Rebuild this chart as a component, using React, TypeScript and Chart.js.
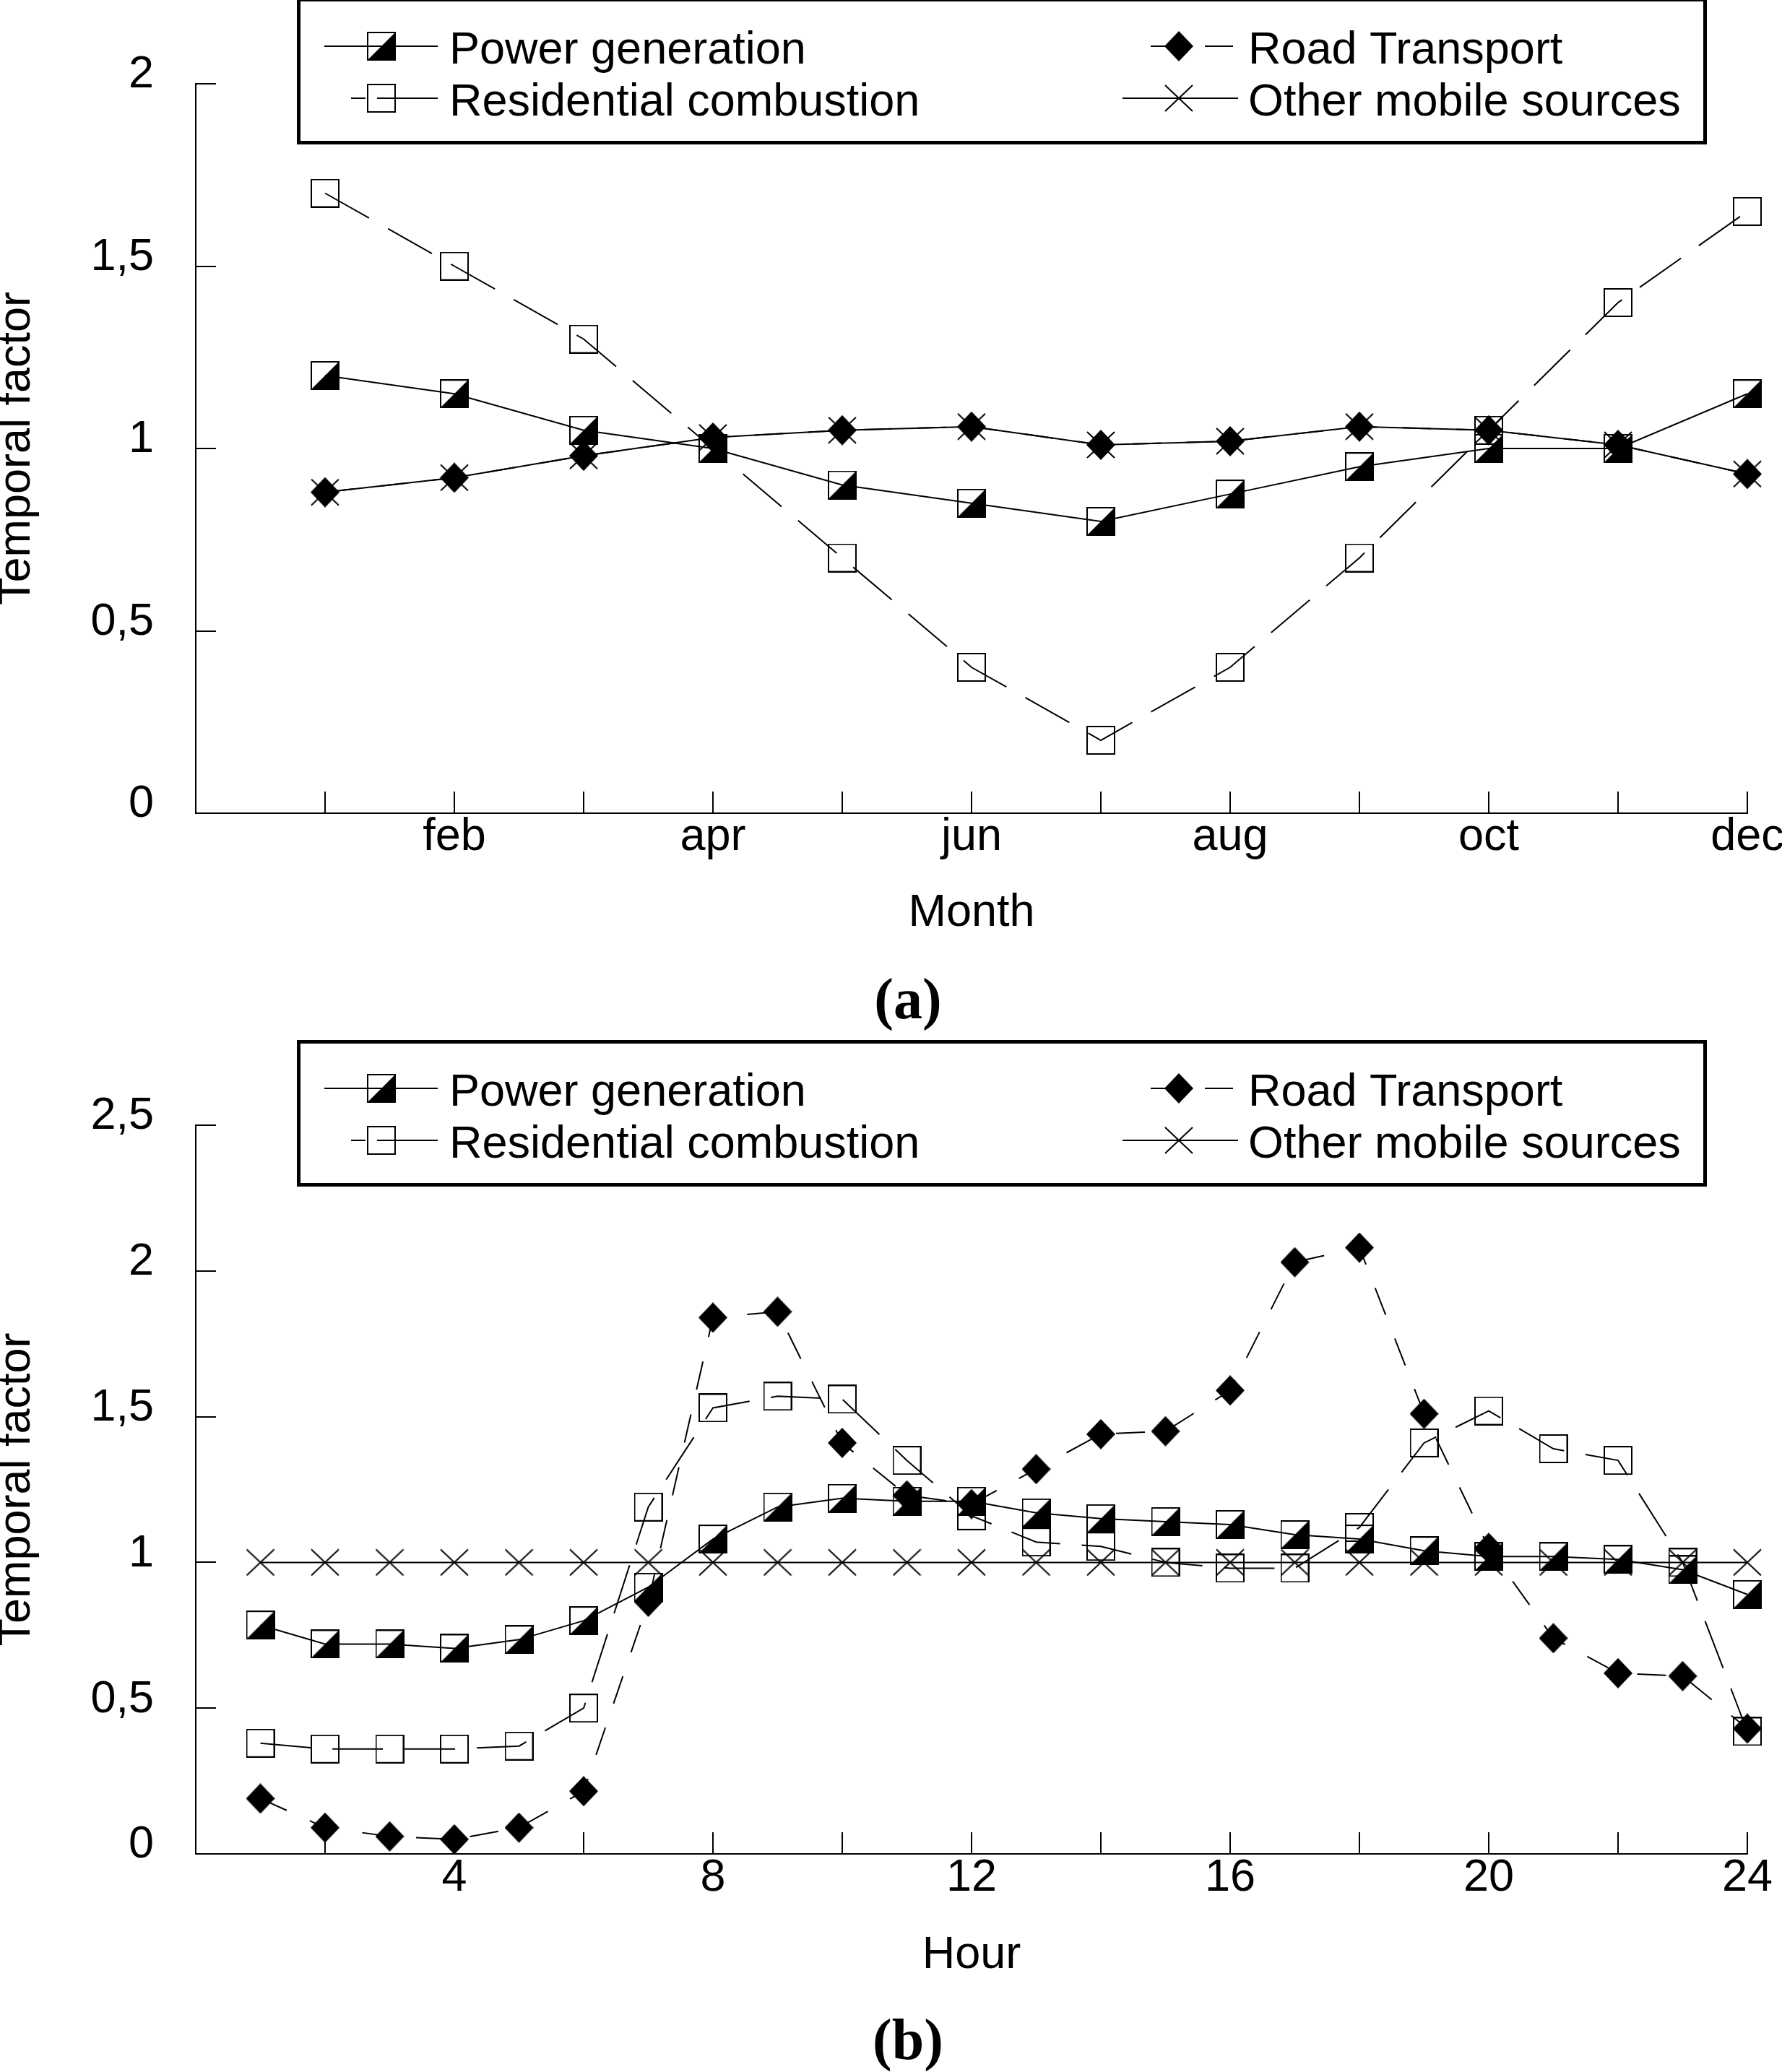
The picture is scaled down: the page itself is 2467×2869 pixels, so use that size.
import { useEffect, useRef } from 'react';
import { Chart, registerables } from 'chart.js';

Chart.register(...registerables);

const SANS = '"Liberation Sans", Arial, sans-serif';
const SERIF = '"Liberation Serif", "Times New Roman", serif';

// ---------- Panel (a): monthly temporal factors ----------
const months = [1, 2, 3, 4, 5, 6, 7, 8, 9, 10, 11, 12];
const monthNames = ['jan', 'feb', 'mar', 'apr', 'may', 'jun', 'jul', 'aug', 'sep', 'oct', 'nov', 'dec'];
const monthlyPower = [1.2, 1.15, 1.05, 1.0, 0.9, 0.85, 0.8, 0.875, 0.95, 1.0, 1.0, 1.15];
const monthlyResidential = [1.7, 1.5, 1.3, 1.0, 0.7, 0.4, 0.2, 0.4, 0.7, 1.05, 1.4, 1.65];
const monthlyRoad = [0.88, 0.92, 0.98, 1.03, 1.05, 1.06, 1.01, 1.02, 1.06, 1.05, 1.01, 0.93];
const monthlyOther = [0.88, 0.92, 0.98, 1.03, 1.05, 1.06, 1.01, 1.02, 1.06, 1.05, 1.01, 0.93];

// ---------- Panel (b): hourly temporal factors ----------
const hours = [1, 2, 3, 4, 5, 6, 7, 8, 9, 10, 11, 12, 13, 14, 15, 16, 17, 18, 19, 20, 21, 22, 23, 24];
const hourlyPower = [0.785, 0.72, 0.72, 0.705, 0.735, 0.8, 0.915, 1.08, 1.19, 1.22, 1.21, 1.21, 1.17, 1.15, 1.14, 1.13, 1.095, 1.08, 1.04, 1.02, 1.02, 1.01, 0.975, 0.89];
const hourlyResidential = [0.38, 0.36, 0.36, 0.36, 0.37, 0.5, 1.19, 1.53, 1.57, 1.56, 1.35, 1.16, 1.07, 1.055, 1.0, 0.98, 0.98, 1.12, 1.41, 1.52, 1.39, 1.35, 1.0, 0.42];
const hourlyRoad = [0.19, 0.09, 0.06, 0.05, 0.09, 0.215, 0.865, 1.84, 1.86, 1.41, 1.23, 1.2, 1.32, 1.44, 1.45, 1.59, 2.03, 2.08, 1.51, 1.05, 0.74, 0.62, 0.61, 0.43];
const hourlyOther = [1, 1, 1, 1, 1, 1, 1, 1, 1, 1, 1, 1, 1, 1, 1, 1, 1, 1, 1, 1, 1, 1, 1, 1];
const hourTickLabels = [4, 8, 12, 16, 20, 24];

const seriesNames = ['Power generation', 'Residential combustion', 'Road Transport', 'Other mobile sources'];
const yAxisTitle = 'Temporal factor';

type MarkerKind = 'half' | 'square' | 'diamond' | 'cross';

function makeMarker(kind: MarkerKind): HTMLCanvasElement {
  const c = document.createElement('canvas');
  const ctx = c.getContext('2d')!;
  if (kind === 'half' || kind === 'square') {
    c.width = 40; c.height = 40;
    ctx.strokeStyle = '#000';
    ctx.lineWidth = 2;
    if (kind === 'half') {
      ctx.fillStyle = '#000';
      ctx.beginPath();
      ctx.moveTo(1, 39); ctx.lineTo(39, 39); ctx.lineTo(39, 1); ctx.closePath();
      ctx.fill();
    }
    ctx.strokeRect(1, 1, 38, 38);
  } else if (kind === 'diamond') {
    c.width = 40; c.height = 42;
    ctx.fillStyle = '#000';
    ctx.beginPath();
    ctx.moveTo(20, 0); ctx.lineTo(40, 21); ctx.lineTo(20, 42); ctx.lineTo(0, 21); ctx.closePath();
    ctx.fill();
  } else {
    c.width = 40; c.height = 38;
    ctx.strokeStyle = '#000';
    ctx.lineWidth = 2;
    ctx.beginPath();
    ctx.moveTo(1, 1); ctx.lineTo(39, 37);
    ctx.moveTo(39, 1); ctx.lineTo(1, 37);
    ctx.stroke();
  }
  return c;
}

type PanelSpec = {
  top: number;
  height: number;
  areaTop: number;
  areaBottom: number;
  xMax: number;
  xStep: number;
  xLabel: (v: number) => string;
  yMax: number;
  xTitle: string;
  titleGap: number;
  legendTop: number;
  caption: string;
  captionBaseline: number;
  xs: number[];
  series: number[][];
};

const CANVAS_W = 2475;

const panelA: PanelSpec = {
  top: 0,
  height: 1430,
  areaTop: 116,
  areaBottom: 1126,
  xMax: 12,
  xStep: 1,
  xLabel: (v) => (v > 0 && v % 2 === 0 ? monthNames[v - 1] : ''),
  yMax: 2,
  xTitle: 'Month',
  titleGap: 133.5,
  legendTop: -3,
  caption: '(a)',
  captionBaseline: 1410,
  xs: months,
  series: [monthlyPower, monthlyResidential, monthlyRoad, monthlyOther],
};

const panelB: PanelSpec = {
  top: 1430,
  height: 1439,
  areaTop: 128,
  areaBottom: 1137,
  xMax: 24,
  xStep: 2,
  xLabel: (v) => (hourTickLabels.includes(v) ? String(v) : ''),
  yMax: 2.5,
  xTitle: 'Hour',
  titleGap: 129.5,
  legendTop: 10,
  caption: '(b)',
  captionBaseline: 1421,
  xs: hours,
  series: [hourlyPower, hourlyResidential, hourlyRoad, hourlyOther],
};

function Panel({ spec }: { spec: PanelSpec }) {
  const ref = useRef<HTMLCanvasElement | null>(null);

  useEffect(() => {
    const canvas = ref.current;
    if (!canvas) return;
    const markers: Record<MarkerKind, HTMLCanvasElement> = {
      half: makeMarker('half'),
      square: makeMarker('square'),
      diamond: makeMarker('diamond'),
      cross: makeMarker('cross'),
    };
    const kinds: MarkerKind[] = ['half', 'square', 'diamond', 'cross'];
    const dashes: number[][] = [[], [70, 30], [40, 35], []];

    const datasets = spec.series.map((vals, i) => ({
      label: seriesNames[i],
      data: spec.xs.map((x, j) => ({ x, y: vals[j] })),
      borderColor: '#000',
      backgroundColor: '#000',
      borderWidth: 2,
      borderDash: dashes[i],
      pointStyle: markers[kinds[i]],
      pointRadius: 20,
      pointHoverRadius: 20,
      fill: false,
      tension: 0,
      clip: false,
    }));

    const tickFont = { family: SANS, size: 63, lineHeight: 1 };

    const tickMarks = {
      id: 'inwardTicks',
      beforeDatasetsDraw(chart: any) {
        const ctx = chart.ctx;
        const xs = chart.scales.x;
        const ys = chart.scales.y;
        ctx.save();
        ctx.strokeStyle = '#000';
        ctx.lineWidth = 2;
        ctx.beginPath();
        for (const t of xs.ticks) {
          if (t.value <= xs.min) continue;
          const px = Math.round(xs.getPixelForValue(t.value));
          ctx.moveTo(px, xs.top);
          ctx.lineTo(px, xs.top - 30);
        }
        for (const t of ys.ticks) {
          if (t.value <= ys.min) continue;
          const py = Math.round(ys.getPixelForValue(t.value));
          ctx.moveTo(ys.right, py);
          ctx.lineTo(ys.right + 28, py);
        }
        ctx.stroke();
        ctx.restore();
      },
    };

    const legendAndCaption = {
      id: 'boxLegend',
      afterDraw(chart: any) {
        const ctx = chart.ctx;
        ctx.save();
        const left = 411;
        const right = 2363;
        const top = spec.legendTop;
        const h = 203;
        ctx.fillStyle = '#fff';
        ctx.fillRect(left, top, right - left, h);
        ctx.strokeStyle = '#000';
        ctx.lineWidth = 5;
        ctx.strokeRect(left + 2.5, top + 2.5, right - left - 5, h - 5);

        const rows = [top + 67, top + 139];
        const markerX = [528, 1632];
        const textX = [622, 1728];
        const place = [
          { col: 0, row: 0, segs: [[449, 606]] },
          { col: 0, row: 1, segs: [[486, 506], [522, 606]] },
          { col: 1, row: 0, segs: [[1593, 1614], [1668, 1707]] },
          { col: 1, row: 1, segs: [[1554, 1714]] },
        ];
        ctx.lineWidth = 2;
        ctx.font = `63px ${SANS}`;
        ctx.textBaseline = 'alphabetic';
        ctx.textAlign = 'left';
        place.forEach((p, i) => {
          const cy = rows[p.row];
          ctx.strokeStyle = '#000';
          ctx.beginPath();
          for (const [a, b] of p.segs) {
            ctx.moveTo(a, cy);
            ctx.lineTo(b, cy);
          }
          ctx.stroke();
          const m = markers[kinds[i]];
          ctx.drawImage(m, markerX[p.col] - m.width / 2, cy - m.height / 2);
          ctx.fillStyle = '#000';
          ctx.fillText(seriesNames[i], textX[p.col], cy + 24);
        });

        ctx.font = `bold 80px ${SERIF}`;
        ctx.textAlign = 'center';
        ctx.fillStyle = '#000';
        ctx.fillText(spec.caption, 1257, spec.captionBaseline);
        ctx.restore();
      },
    };

    const chart = new Chart(canvas, {
      type: 'line',
      data: { datasets: datasets as any },
      options: {
        responsive: false,
        animation: false,
        devicePixelRatio: 1,
        events: [],
        layout: { padding: { top: spec.areaTop, left: 0, right: CANVAS_W - 2419, bottom: 0 } },
        plugins: {
          legend: { display: false },
          tooltip: { enabled: false },
        },
        scales: {
          x: {
            type: 'linear',
            min: 0,
            max: spec.xMax,
            grid: { display: false, drawTicks: false, tickLength: 0 },
            border: { display: true, color: '#000', width: 2 },
            ticks: {
              stepSize: spec.xStep,
              autoSkip: false,
              maxRotation: 0,
              minRotation: 0,
              padding: 2.5,
              color: '#000',
              font: tickFont,
              callback: (v: any) => spec.xLabel(Number(v)),
            },
            title: {
              display: true,
              text: spec.xTitle,
              color: '#000',
              font: tickFont,
              padding: { top: 0, bottom: spec.titleGap },
            },
            afterFit: (s: any) => {
              s.height = spec.height - spec.areaBottom;
            },
          },
          y: {
            type: 'linear',
            min: 0,
            max: spec.yMax,
            grid: { display: false, drawTicks: false, tickLength: 0 },
            border: { display: true, color: '#000', width: 2 },
            ticks: {
              stepSize: 0.5,
              padding: 58,
              labelOffset: -12,
              color: '#000',
              font: tickFont,
              callback: (v: any) => String(Number(v)).replace('.', ','),
            },
            title: {
              display: true,
              text: yAxisTitle,
              color: '#000',
              font: { family: SANS, size: 63, lineHeight: 0.76 },
              padding: 0,
            },
            afterFit: (s: any) => {
              s.width = 271;
            },
          },
        },
      } as any,
      plugins: [tickMarks, legendAndCaption],
    });

    return () => chart.destroy();
  }, [spec]);

  return (
    <canvas
      ref={ref}
      width={CANVAS_W}
      height={spec.height}
      style={{ position: 'absolute', left: 0, top: spec.top, width: CANVAS_W, height: spec.height }}
    />
  );
}

export default function App() {
  return (
    <div
      style={{
        position: 'absolute',
        left: 0,
        top: 0,
        width: 2467,
        height: 2869,
        overflow: 'hidden',
        background: '#fff',
      }}
    >
      <Panel spec={panelA} />
      <Panel spec={panelB} />
    </div>
  );
}
